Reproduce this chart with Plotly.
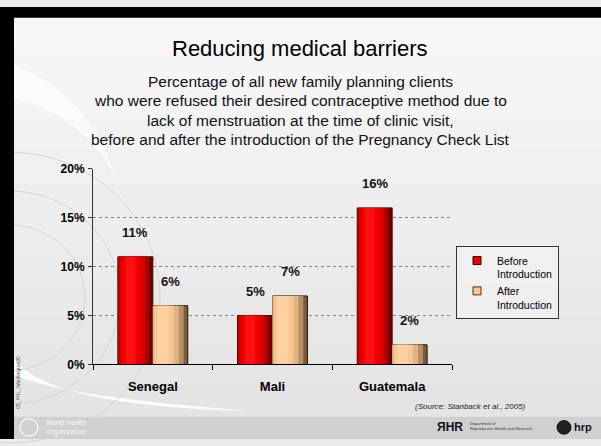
import plotly.graph_objects as go

categories = ["Senegal", "Mali", "Guatemala"]
before = [11, 5, 16]
after = [6, 7, 2]
series_names = ["Before<br>Introduction", "After<br>Introduction"]
y_ticks = [0, 5, 10, 15, 20]
y_tick_labels = ["0%", "5%", "10%", "15%", "20%"]

W, H = 601, 446
FONT = "Liberation Sans, Arial, sans-serif"

fig = go.Figure()

BW = 0.292  # bar width in category units
# shading layers: (start fraction, end fraction, colour) -> simulated cylinder gradient
red_layers = [(0.0, 1.0, "#6e0000"), (0.0, 0.9, "#a80000"), (0.04, 0.78, "#d80000"),
              (0.12, 0.62, "#f20000"), (0.22, 0.5, "#ff1010")]
peach_layers = [(0.0, 1.0, "#7a5c3e"), (0.0, 0.88, "#b89068"), (0.0, 0.74, "#e2b282"),
                (0.05, 0.6, "#f8c692"), (0.14, 0.46, "#ffd0a0")]
for vals, base_off, layers in [(before, -BW, red_layers), (after, 0.0, peach_layers)]:
    for i, (a, b, col) in enumerate(layers):
        fig.add_trace(go.Bar(
            x=categories, y=vals, width=BW * (b - a), offset=base_off + BW * a,
            marker=dict(color=col, line=dict(color="#2a1000", width=1 if i == 0 else 0)),
            showlegend=False, hoverinfo="skip" if i else None,
        ))

# legend entries
for name, col, lc in zip(series_names, ["#ee0000", "#f8c692"], ["#300000", "#4a3020"]):
    fig.add_trace(go.Scatter(x=[None], y=[None], mode="markers", name=name,
                             marker=dict(symbol="square", size=8, color=col,
                                         line=dict(color=lc, width=1))))

# data labels
for vals, xs in [(before, -17.5), (after, 17.5)]:
    for cat, v in zip(categories, vals):
        fig.add_annotation(x=cat, y=v, text=f"<b>{v}%</b>", showarrow=False,
                           xref="x", yref="y", xshift=xs, yshift=24,
                           xanchor="center", yanchor="middle",
                           font=dict(family=FONT, size=13, color="#111"))

x0, x1 = 93 / W, 452 / W
y0, y1 = 1 - 369 / H, 1 - 167 / H

fig.update_layout(
    width=W, height=H,
    margin=dict(l=0, r=0, t=0, b=0),
    paper_bgcolor="#ebebeb",
    plot_bgcolor="#c0c0c0",
    barmode="overlay",
    showlegend=True,
    legend=dict(x=456 / W, y=1 - 247 / H, xanchor="left", yanchor="top",
                bgcolor="rgba(245,245,245,0.5)", bordercolor="#333", borderwidth=1,
                font=dict(family=FONT, size=10.5, color="#000"),
                itemwidth=30, tracegroupgap=0, valign="top"),
    xaxis=dict(domain=[x0, x1], showline=True, linecolor="#000", linewidth=1,
               ticks="outside", tickson="boundaries", ticklen=5, tickcolor="#000",
               tickfont=dict(family=FONT, size=13, color="#000"),
               ticklabelstandoff=10, showgrid=False,
               tickvals=categories, ticktext=[f"<b>{c}</b>" for c in categories]),
    yaxis=dict(domain=[y0, y1], range=[0, 20], tickvals=y_ticks,
               ticktext=[f"<b>{t}</b>" for t in y_tick_labels],
               showline=True, linecolor="#333", linewidth=1,
               ticks="outside", ticklen=4, tickcolor="#333",
               tickfont=dict(family=FONT, size=12, color="#000"),
               ticklabelstandoff=1,
               showgrid=True, gridcolor="#858585", griddash="dot", gridwidth=1,
               zeroline=False),
)

def P(x, y):
    return f"{x / W} {1 - y / H}"

shapes = []
# vertical background gradient
top_c, bot_c = 247, 228
n = 12
for k in range(n):
    ya, yb = 11 + k * (412 / n), 11 + (k + 1) * (412 / n)
    g = round(top_c + (bot_c - top_c) * k / (n - 1))
    shapes.append(dict(type="rect", xref="paper", yref="paper", x0=0, x1=1,
                       y0=1 - (yb + 1) / H, y1=1 - ya / H,
                       fillcolor=f"rgb({g},{g},{g})", line_width=0, layer="below"))
# light crescent upper-left
shapes.append(dict(type="path", xref="paper", yref="paper",
                   path=f"M {P(14, 60)} Q {P(90, 90)} {P(115, 175)} Q {P(80, 110)} {P(14, 95)} Z",
                   fillcolor="rgba(255,255,255,0.6)", line_width=0, layer="below"))
# white swoosh bottom-left
shapes.append(dict(type="path", xref="paper", yref="paper",
                   path=f"M {P(14, 362)} Q {P(45, 412)} {P(250, 417)} Q {P(60, 402)} {P(14, 380)} Z",
                   fillcolor="rgba(255,255,255,0.85)", line_width=0, layer="below"))
# globe lines
for r in [150, 110, 75]:
    shapes.append(dict(type="circle", xref="paper", yref="paper",
                       x0=(-r + 10) / W, x1=(r + 10) / W,
                       y0=1 - (300 + r) / H, y1=1 - (300 - r) / H,
                       line=dict(color="#d6d6d6", width=1), fillcolor="rgba(0,0,0,0)", layer="below"))
# footer strip
shapes.append(dict(type="rect", xref="paper", yref="paper", x0=0, x1=1,
                   y0=0, y1=1 - 423 / H, fillcolor="#d0d0d0", line_width=0, layer="below"))
# black borders
shapes.append(dict(type="rect", xref="paper", yref="paper", x0=0, x1=1,
                   y0=1 - 11 / H, y1=1, fillcolor="#000", line_width=0))
shapes.append(dict(type="rect", xref="paper", yref="paper", x0=0, x1=14 / W,
                   y0=0, y1=1, fillcolor="#000", line_width=0))
# WHO emblem
shapes.append(dict(type="circle", xref="paper", yref="paper",
                   x0=20 / W, x1=38 / W, y0=1 - 443 / H, y1=1 - 425 / H,
                   line=dict(color="#f4f4f4", width=1.5), fillcolor="rgba(0,0,0,0)"))
# hrp blob
shapes.append(dict(type="circle", xref="paper", yref="paper",
                   x0=557 / W, x1=571 / W, y0=1 - 441 / H, y1=1 - 427 / H,
                   line=dict(color="#111", width=1), fillcolor="#222"))
fig.update_layout(shapes=shapes)

def txt(x, y, text, size, color="#000", xanchor="center", **kw):
    fig.add_annotation(x=x / W, y=1 - y / H, xref="paper", yref="paper", text=text,
                       showarrow=False, xanchor=xanchor, yanchor="middle",
                       font=dict(family=FONT, size=size, color=color), **kw)

txt(300, 43, "Reducing medical barriers", 22)
subtitle = ["Percentage of all new family planning clients",
            "who were refused their desired contraceptive method due to",
            "lack of menstruation at the time of clinic visit,",
            "before and after the introduction of the Pregnancy Check List"]
for i, line in enumerate(subtitle):
    txt(300, 77 + i * 20, line, 15.5, color="#111")
txt(413, 412, "<i>(Source: Stanback et al., 2005)</i>", 8, color="#222", xanchor="left")
txt(18, 388, "08_PHL_Washington30", 5, color="#555", textangle=-90)
txt(44, 434, "World Health<br>Organization", 7, color="#f6f6f6", align="left", xanchor="left")
txt(450, 434, "<b>ЯHR</b>", 12, color="#111")
txt(468, 433, "Department of<br>Reproductive Health and Research", 4, color="#333",
    align="left", xanchor="left")
txt(583, 434, "<b>hrp</b>", 11, color="#111")

fig.write_html("out.html", post_script="document.body.style.margin='0';",
               config={"displayModeBar": False})
